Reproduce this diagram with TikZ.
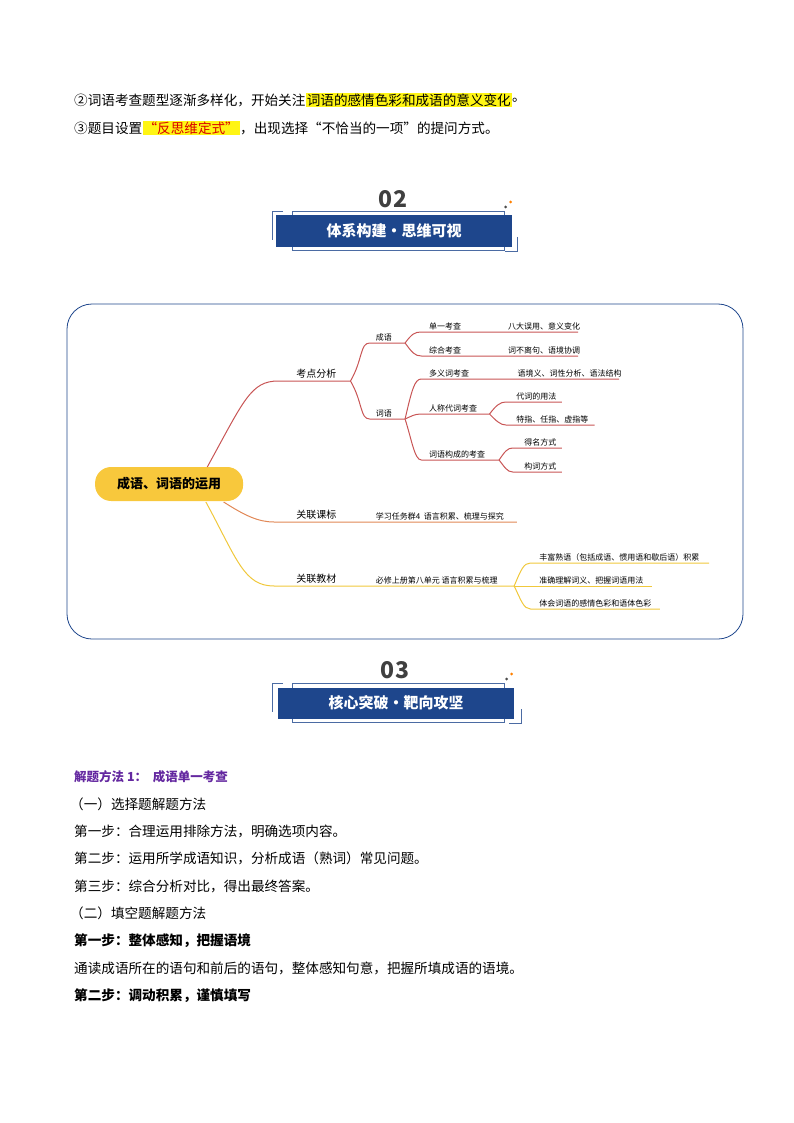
\documentclass[tikz,border=0pt]{standalone}
\usepackage{fontspec}
\setmainfont{Noto Sans CJK SC}
\usetikzlibrary{positioning}
\definecolor{navy}{RGB}{30,70,140}
\definecolor{mapred}{RGB}{200,85,85}
\definecolor{maporange}{RGB}{225,135,85}
\definecolor{mapyellow}{RGB}{240,200,60}
\definecolor{rootyellow}{RGB}{248,200,60}
\definecolor{hl}{RGB}{255,245,20}
\definecolor{methodpurple}{RGB}{100,40,160}

\begin{document}
\begin{tikzpicture}[x=1pt, y=-1pt,
    body/.style={anchor=west, inner sep=0pt, font=\fontsize{13.6}{15}\selectfont},
    hilite/.style={fill=hl, inner sep=1pt, font=\fontsize{13.6}{15}\selectfont},
    num/.style={font=\fontsize{23}{25}\selectfont\bfseries, text=black!75},
    banner/.style={fill=navy, text=white, minimum width=236pt, minimum height=31pt, font=\fontsize{15}{17}\selectfont\bfseries},
    root/.style={fill=rootyellow, rounded corners=16pt, minimum width=148pt, minimum height=34pt, font=\fontsize{13}{15}\selectfont\bfseries},
    topic/.style={anchor=south, inner sep=2pt, font=\fontsize{10}{12}\selectfont},
    leaf/.style={anchor=south west, inner sep=2pt, font=\fontsize{8}{10}\selectfont},
    redline/.style={mapred, line width=1pt},
    orangeline/.style={maporange, line width=1pt},
    yellowline/.style={mapyellow, line width=1pt}
]
\useasboundingbox (0,0) rectangle (794,1123);

% intro lines
\node[body] (l1) at (74,100) {②词语考查题型逐渐多样化，开始关注};
\node[hilite, right=0pt of l1] (l1h) {词语的感情色彩和成语的意义变化};
\node[body, right=0pt of l1h] {。};
\node[body] (l2) at (74,128) {③题目设置};
\node[hilite, right=0pt of l2, text=red!85!black] (l2h) {“反思维定式”};
\node[body, right=0pt of l2h] {，出现选择“不恰当的一项”的提问方式。};

% banner 02
\node[num] (n02) at (393,199) {02};
\draw[navy!80, line width=0.6pt] (292,211) rectangle (504,250);
\node[banner] (b02) at (394,231) {体系构建・思维可视};
\draw[navy!80, line width=0.8pt] (283,211) -- (272,211) -- (272,240);
\draw[navy!80, line width=0.8pt] (517,237) -- (517,251) -- (505,251);
\fill[black!70] (504,207) -- (505.5,205.5) -- (507,207) -- (505.5,208.5) -- cycle;
\fill[orange] (509,202) -- (510.5,200.5) -- (512,202) -- (510.5,203.5) -- cycle;

% mind map frame
\draw[navy, line width=0.8pt, rounded corners=25pt] (67,304) rectangle (743,639);

\begin{scope}[shift={(60,0)}, xscale=1.3636, shift={(-60,0)}]
\node[root] (root) at (140,484) {成语、词语的运用};

% branch: 考点分析
\coordinate (kd0) at (220,381); \coordinate (kd1) at (273,381);
\coordinate (cy0) at (287,343); \coordinate (cy1) at (313,343);
\coordinate (cc0) at (287,419); \coordinate (cc1) at (313,419);
\draw[redline] (168,467) .. controls (195,400) and (200,381) .. (kd0) -- (kd1);
\node[topic] at (248,381) {考点分析};
\draw[redline] (kd1) .. controls (282,360) and (280,343) .. (cy0) -- (cy1);
\draw[redline] (kd1) .. controls (282,402) and (280,419) .. (cc0) -- (cc1);
\node[leaf] at (290,343) {成语};
\node[leaf] at (290,419) {词语};
\draw[redline] (cy1) .. controls (318,334) and (320,332) .. (325,332) -- (440,332);
\draw[redline] (cy1) .. controls (318,352) and (320,356) .. (325,356) -- (440,356);
\node[leaf] at (329,332) {单一考查};
\node[leaf] at (387,332) {八大误用、意义变化};
\node[leaf] at (329,356) {综合考查};
\node[leaf] at (387,356) {词不离句、语境协调};
\draw[redline] (cc1) .. controls (318,390) and (320,379) .. (325,379) -- (470,379);
\draw[redline] (cc1) .. controls (318,416) and (320,414) .. (325,414) -- (375,414);
\draw[redline] (cc1) .. controls (318,440) and (320,460) .. (325,460) -- (382,460);
\node[leaf] at (329,379) {多义词考查};
\node[leaf] at (394,379) {语境义、词性分析、语法结构};
\node[leaf] at (329,414) {人称代词考查};
\node[leaf] at (329,460) {词语构成的考查};
\draw[redline] (375,414) .. controls (380,405) and (383,402) .. (387,402) -- (428,402);
\draw[redline] (375,414) .. controls (380,421) and (383,425) .. (387,425) -- (452,425);
\node[leaf] at (393,402) {代词的用法};
\node[leaf] at (393,425) {特指、任指、虚指等};
\draw[redline] (382,460) .. controls (386,452) and (388,448) .. (392,448) -- (428,448);
\draw[redline] (382,460) .. controls (386,467) and (388,472) .. (392,472) -- (428,472);
\node[leaf] at (399,448) {得名方式};
\node[leaf] at (399,472) {构词方式};

% branch: 关联课标
\draw[orangeline] (180,502) .. controls (195,515) and (205,522) .. (217,522) -- (395,522);
\node[topic] at (248,522) {关联课标};
\node[leaf] at (290,522) {学习任务群4\ \ 语言积累、梳理与探究};

% branch: 关联教材
\coordinate (jc1) at (393,586);
\draw[yellowline] (167,502) .. controls (190,560) and (195,586) .. (217,586) -- (jc1);
\node[topic] at (248,586) {关联教材};
\node[leaf] at (290,586) {必修上册第八单元 语言积累与梳理};
\draw[yellowline] (jc1) .. controls (398,570) and (400,563) .. (405,563) -- (536,563);
\draw[yellowline] (jc1) -- (494,586);
\draw[yellowline] (jc1) .. controls (398,600) and (400,609) .. (405,609) -- (500,609);
\node[leaf] at (410,563) {丰富熟语（包括成语、惯用语和歇后语）积累};
\node[leaf] at (410,586) {准确理解词义、把握词语用法};
\node[leaf] at (410,609) {体会词语的感情色彩和语体色彩};
\end{scope}

% banner 03
\node[num] (n03) at (395,670) {03};
\draw[navy!80, line width=0.6pt] (292,683) rectangle (504,722);
\node[banner] (b03) at (396,703) {核心突破・靶向攻坚};
\draw[navy!80, line width=0.8pt] (283,683) -- (272,683) -- (272,712);
\draw[navy!80, line width=0.8pt] (521,709) -- (521,723) -- (509,723);
\fill[black!70] (505,679) -- (506.5,677.5) -- (508,679) -- (506.5,680.5) -- cycle;
\fill[orange] (510,674) -- (511.5,672.5) -- (513,674) -- (511.5,675.5) -- cycle;

% method text
\node[body, text=methodpurple, font=\fontsize{12.5}{15}\selectfont\bfseries] at (74,777) {解题方法 1：\ \ 成语单一考查};
\node[body] at (70,804) {（一）选择题解题方法};
\node[body] at (74,831) {第一步：合理运用排除方法，明确选项内容。};
\node[body] at (74,858) {第二步：运用所学成语知识，分析成语（熟词）常见问题。};
\node[body] at (74,886) {第三步：综合分析对比，得出最终答案。};
\node[body] at (70,913) {（二）填空题解题方法};
\node[body, font=\fontsize{13.6}{15}\selectfont\bfseries] at (74,941) {第一步：整体感知，把握语境};
\node[body] at (74,968) {通读成语所在的语句和前后的语句，整体感知句意，把握所填成语的语境。};
\node[body, font=\fontsize{13.6}{15}\selectfont\bfseries] at (74,996) {第二步：调动积累，谨慎填写};
\end{tikzpicture}
\end{document}
